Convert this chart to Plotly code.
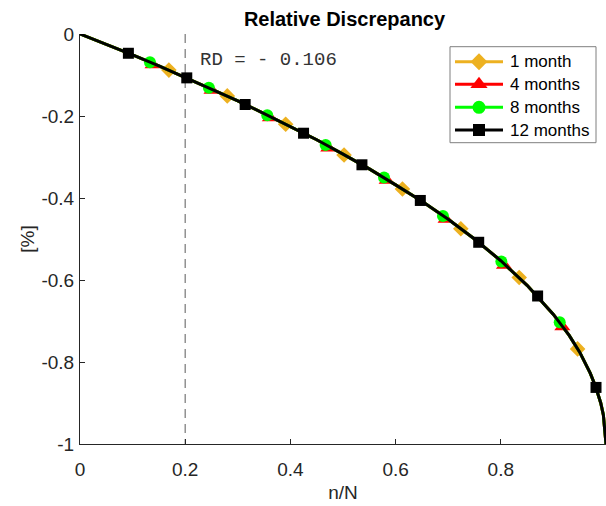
import plotly.graph_objects as go

# Relative discrepancy curve, n/N vs. [%]
CURVE_X = [0.0, 0.05, 0.10, 0.15, 0.20, 0.25, 0.30, 0.35, 0.40, 0.45, 0.50,
           0.55, 0.60, 0.65, 0.70, 0.75, 0.80, 0.85, 0.90, 0.93, 0.95, 0.97,
           0.98, 0.99, 0.995, 1.0]
CURVE_Y = [0.0, -0.025, -0.051, -0.078, -0.106, -0.134, -0.163, -0.194,
           -0.225, -0.258, -0.293, -0.329, -0.368, -0.408, -0.452, -0.500,
           -0.553, -0.613, -0.684, -0.735, -0.776, -0.827, -0.859, -0.900,
           -0.929, -1.0]

# Marker positions of each series
M1_X = [0.169, 0.280, 0.391, 0.502, 0.613, 0.724, 0.835, 0.946]
M1_Y = [-0.088, -0.151, -0.220, -0.295, -0.378, -0.475, -0.594, -0.768]

M4_X = [0.138, 0.250, 0.361, 0.472, 0.583, 0.695, 0.806, 0.917]
M4_Y = [-0.075, -0.137, -0.204, -0.278, -0.357, -0.452, -0.564, -0.714]

M8_X = [0.133, 0.245, 0.356, 0.467, 0.578, 0.690, 0.801, 0.912]
M8_Y = [-0.069, -0.131, -0.198, -0.271, -0.350, -0.444, -0.555, -0.703]

M12_X = [0.092, 0.203, 0.314, 0.425, 0.536, 0.647, 0.758, 0.870, 0.981]
M12_Y = [-0.047, -0.107, -0.172, -0.242, -0.319, -0.406, -0.508, -0.639, -0.862]

SERIES = [
    ("1 month", M1_X, M1_Y, "#EDB120", "diamond", 12),
    ("4 months", M4_X, M4_Y, "#FF0000", "triangle-up", 14),
    ("8 months", M8_X, M8_Y, "#00FF00", "circle", 12),
    ("12 months", M12_X, M12_Y, "#000000", "square", 11),
]

X_TICKS = [0, 0.2, 0.4, 0.6, 0.8, 1.0]
X_TICKTEXT = ["0", "0.2", "0.4", "0.6", "0.8", "1"]
Y_TICKS = [0, -0.2, -0.4, -0.6, -0.8, -1.0]
Y_TICKTEXT = ["0", "-0.2", "-0.4", "-0.6", "-0.8", "-1"]

RD_X = 0.2
RD_VALUE = -0.106

FONT = "Liberation Sans, Arial, Helvetica, sans-serif"
AXIS_COLOR = "#262626"

W, H = 606, 506
L, R, T, B = 80, 0, 34, 62

# legend box geometry (pixels)
LEG_BOX = (450, 46.7, 596, 142.7)
LEG_LINE = (455, 503)
LEG_TEXT_X = 508
LEG_ROWS = [61.7, 84.3, 107.3, 130.0]

fig = go.Figure()

for name, mx, my, color, symbol, size in SERIES:
    # smooth curve
    fig.add_trace(go.Scatter(
        x=CURVE_X, y=CURVE_Y, mode="lines",
        line=dict(color=color, width=3),
        showlegend=False, hoverinfo="skip",
    ))
    # markers
    fig.add_trace(go.Scatter(
        x=mx, y=my, mode="markers", name=name,
        marker=dict(color=color, symbol=symbol, size=size, line=dict(width=0)),
        showlegend=False,
    ))

# legend drawn on a pixel-space overlay axis pair
for (name, _, _, color, symbol, size), ry in zip(SERIES, LEG_ROWS):
    fig.add_trace(go.Scatter(
        x=[LEG_LINE[0], LEG_LINE[1]], y=[ry, ry], mode="lines",
        line=dict(color=color, width=3),
        xaxis="x2", yaxis="y2", showlegend=False, hoverinfo="skip",
    ))
    fig.add_trace(go.Scatter(
        x=[(LEG_LINE[0] + LEG_LINE[1]) / 2], y=[ry], mode="markers",
        marker=dict(color=color, symbol=symbol, size=size + 1,
                    line=dict(width=0)),
        xaxis="x2", yaxis="y2", showlegend=False, hoverinfo="skip",
    ))
    fig.add_annotation(x=LEG_TEXT_X, y=ry, xref="x2", yref="y2", text=name,
                       showarrow=False, xanchor="left", yanchor="middle",
                       font=dict(family=FONT, size=17, color="black"))

fig.add_shape(type="rect", x0=LEG_BOX[0], x1=LEG_BOX[2],
              y0=LEG_BOX[1], y1=LEG_BOX[3], xref="x2", yref="y2",
              line=dict(color="#7f7f7f", width=1), fillcolor="white",
              layer="below")

fig.add_shape(type="line", x0=RD_X, x1=RD_X, y0=0, y1=-1,
              xref="x", yref="y",
              line=dict(color="#808080", width=1.3, dash="9px,6px"),
              layer="below")

fig.add_annotation(x=RD_X + 0.024, y=-0.063, xref="x", yref="y",
                   text=f"RD = - {abs(RD_VALUE):.3f}", showarrow=False,
                   xanchor="left", yanchor="middle",
                   font=dict(family="Liberation Mono, Courier New, monospace",
                             size=19, color="#333333"))

fig.update_layout(
    width=W, height=H,
    margin=dict(l=L, r=R, t=T, b=B, pad=0),
    paper_bgcolor="white", plot_bgcolor="white",
    font=dict(family=FONT, color=AXIS_COLOR),
    showlegend=False,
    title=dict(text="Relative Discrepancy", x=344.5 / W, xanchor="center",
               xref="container", y=1 - 18.5 / H, yanchor="middle",
               yref="container",
               font=dict(family=FONT, size=20, weight="bold", color="black")),
    xaxis=dict(range=[0, 1], tickvals=X_TICKS, ticktext=X_TICKTEXT,
               ticks="inside", ticklen=5, tickcolor=AXIS_COLOR,
               showline=True, linecolor=AXIS_COLOR, linewidth=1,
               showgrid=False, zeroline=False,
               tickfont=dict(size=19, color=AXIS_COLOR),
               ticklabelstandoff=8,
               title=dict(text="n/N", font=dict(size=19, color=AXIS_COLOR),
                          standoff=6)),
    yaxis=dict(range=[-1, 0], tickvals=Y_TICKS, ticktext=Y_TICKTEXT,
               ticks="inside", ticklen=5, tickcolor=AXIS_COLOR,
               showline=True, linecolor=AXIS_COLOR, linewidth=1,
               showgrid=False, zeroline=False,
               tickfont=dict(size=19, color=AXIS_COLOR),
               ticklabelstandoff=1,
               title=dict(text="[%]", font=dict(size=19, color=AXIS_COLOR),
                          standoff=1)),
    xaxis2=dict(range=[L, W - R], overlaying="x", visible=False,
                fixedrange=True),
    yaxis2=dict(range=[H - B, T], overlaying="y", visible=False,
                fixedrange=True),
)

fig.write_html("out.html")
